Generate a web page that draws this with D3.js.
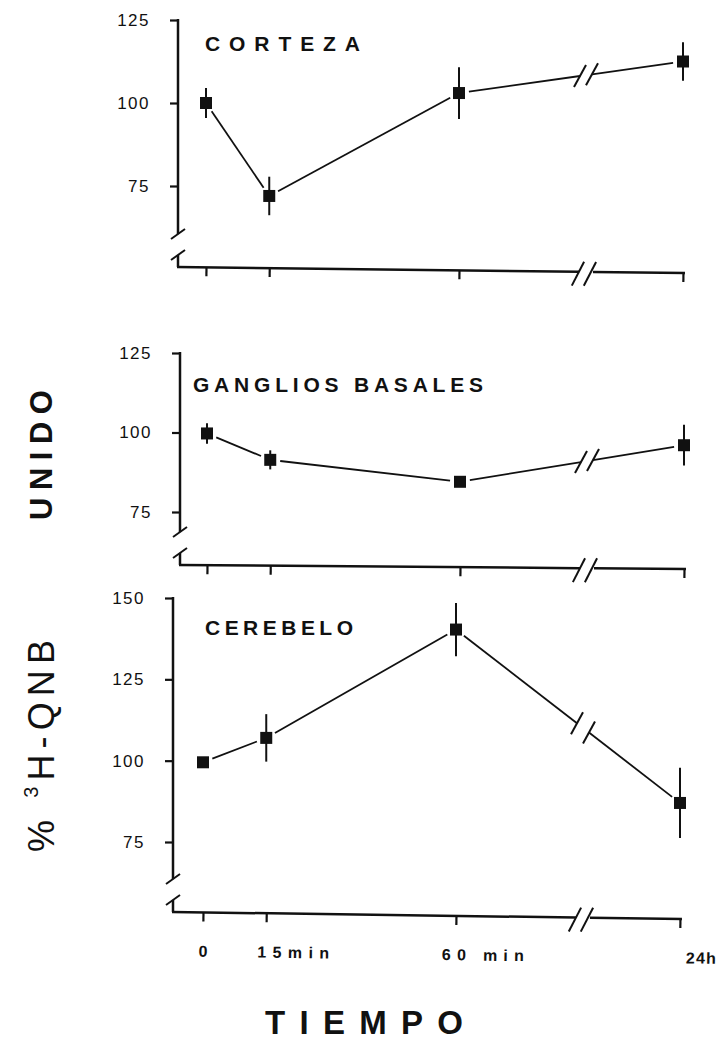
<!DOCTYPE html>
<html>
<head>
<meta charset="utf-8">
<script src="https://cdn.jsdelivr.net/npm/d3@7"></script>
<style>
	body { margin: 0; background: #fff; }
	svg { display: block; }
	text { font-family: "Liberation Sans", Arial, sans-serif; fill: #111; }
</style>
</head>
<body>
<div id="chart"></div>
<script>
// Values (% 3H-QNB bound, mean and error)
const times = [0, 15, 60, 1440];
const timeLabels = ['0', '15min', '60 min', '24h'];

const corteza = [100, 72, 103, 112.5];
const cortezaErr = [4.5, 5.8, 7.8, 5.8];
const cortezaTicks = [75, 100, 125];

const ganglios = [99.7, 91.4, 84.5, 96];
const gangliosErr = [3.2, 3, 0, 6.4];
const gangliosTicks = [75, 100, 125];

const cerebelo = [99.5, 107, 140.3, 87];
const cerebeloErr = [0, 7.3, 8.2, 10.8];
const cerebeloTicks = [75, 100, 125, 150];

const width = 719;
const height = 1042;
const ink = '#111';

// Layout of the three stacked panels
const panels = [
	{ title: 'CORTEZA', values: corteza, errs: cortezaErr, ticks: cortezaTicks,
		range: [186, 20], dx: 0, axisX: 178, base: 267, drop: 6, titleX: 205, titleY: 51, titleLen: 155 },
	{ title: 'GANGLIOS BASALES', values: ganglios, errs: gangliosErr, ticks: gangliosTicks,
		range: [512, 353], dx: 1, axisX: 180, base: 565, drop: 4, titleX: 193, titleY: 392, titleLen: 290 },
	{ title: 'CEREBELO', values: cerebelo, errs: cerebeloErr, ticks: cerebeloTicks,
		range: [842, 598], dx: -3, axisX: 173, base: 912, drop: 7, titleX: 205, titleY: 635, titleLen: 148, labels: true },
];

// Time axis: linear up to 60 min, then compressed after the break
const x = d3.scaleLinear().domain([0, 60, 1440]).range([206, 459, 683]);
const breakX = 586;

// x label placement (offset of the label centre from its tick, text length)
const labelDx = [0, 27, 27, 21];
const labelLen = [9, 72, 82, 30];

const svg = d3.select('#chart')
	.append('svg')
	.attr('width', width)
	.attr('height', height);

// draws a short "/" mark through a point
function slash(g, px, py, w, h) {
	g.append('line')
		.attr('x1', px - w).attr('y1', py + h)
		.attr('x2', px + w).attr('y2', py - h)
		.attr('stroke', ink).attr('stroke-width', 2);
}

// line between two points, trimmed at both ends
function segment(g, a, b, gapA, gapB) {
	const dx = b[0] - a[0];
	const dy = b[1] - a[1];
	const len = Math.sqrt(dx * dx + dy * dy);
	const ux = dx / len;
	const uy = dy / len;
	g.append('line')
		.attr('x1', a[0] + ux * gapA).attr('y1', a[1] + uy * gapA)
		.attr('x2', b[0] - ux * gapB).attr('y2', b[1] - uy * gapB)
		.attr('stroke', ink).attr('stroke-width', 1.8);
}

panels.forEach((p) => {
	const g = svg.append('g').attr('transform', `translate(${p.dx},0)`);
	const y = d3.scaleLinear()
		.domain([p.ticks[0], p.ticks[p.ticks.length - 1]])
		.range(p.range);
	const ax = p.axisX - p.dx;

	// y axis with ticks
	const yAxis = g.append('g')
		.attr('transform', `translate(${ax},0)`)
		.call(d3.axisLeft(y).tickValues(p.ticks).tickSize(8).tickPadding(20));
	yAxis.select('.domain').remove();
	yAxis.selectAll('line').attr('stroke', ink).attr('stroke-width', 2.2);
	yAxis.selectAll('text')
		.attr('font-size', 17)
		.attr('letter-spacing', 1.5)
		.attr('fill', ink);

	// y axis line with a break near the bottom
	const upperEnd = p.base - 33;
	const lowerStart = p.base - 12;
	g.append('line')
		.attr('x1', ax).attr('y1', p.range[1] - 1)
		.attr('x2', ax).attr('y2', upperEnd)
		.attr('stroke', ink).attr('stroke-width', 2.5);
	g.append('line')
		.attr('x1', ax).attr('y1', lowerStart)
		.attr('x2', ax).attr('y2', p.base)
		.attr('stroke', ink).attr('stroke-width', 2.5);
	slash(g, ax, upperEnd, 7, 5);
	slash(g, ax, lowerStart, 7, 5);

	// x axis, slightly tilted like the scanned original
	const xEnd = x(times[times.length - 1]) + 2;
	const angle = Math.atan2(p.drop, xEnd - ax) * 180 / Math.PI;
	const xg = g.append('g')
		.attr('transform', `translate(0,${p.base}) rotate(${angle},${ax},0)`);
	const xAxis = xg.append('g')
		.call(d3.axisBottom(x).tickValues(times).tickSize(9).tickPadding(24)
			.tickFormat((d, i) => (p.labels ? timeLabels[i] : '')));
	xAxis.select('.domain').remove();
	xAxis.selectAll('line').attr('stroke', ink).attr('stroke-width', 2.2);
	xAxis.selectAll('text')
		.attr('dx', (d, i) => labelDx[i])
		.attr('font-size', 16)
		.attr('font-weight', 'bold')
		.attr('fill', ink)
		.attr('textLength', (d, i) => labelLen[i])
		.attr('lengthAdjust', 'spacing');
	xg.append('line')
		.attr('x1', ax - 1).attr('y1', 0)
		.attr('x2', breakX - 7).attr('y2', 0)
		.attr('stroke', ink).attr('stroke-width', 2.5);
	xg.append('line')
		.attr('x1', breakX + 7).attr('y1', 0)
		.attr('x2', xEnd).attr('y2', 0)
		.attr('stroke', ink).attr('stroke-width', 2.5);
	slash(xg, breakX - 8, 2, 6, 12);
	slash(xg, breakX + 4, 2, 6, 12);

	// panel title
	g.append('text')
		.attr('x', p.titleX - p.dx)
		.attr('y', p.titleY)
		.attr('font-size', 21)
		.attr('font-weight', 'bold')
		.attr('textLength', p.titleLen)
		.attr('lengthAdjust', 'spacing')
		.text(p.title);

	// connecting lines, with a break between 60 min and 24 h
	const pts = p.values.map((v, i) => [x(times[i]), y(v)]);
	for (let i = 0; i < pts.length - 1; i += 1) {
		const a = pts[i];
		const b = pts[i + 1];
		if (b[0] > breakX && a[0] < breakX) {
			const t = (breakX - a[0]) / (b[0] - a[0]);
			const m = [breakX, a[1] + t * (b[1] - a[1])];
			const slope = (b[1] - a[1]) / (b[0] - a[0]);
			const m1 = [m[0] - 6, m[1] - 6 * slope];
			const m2 = [m[0] + 6, m[1] + 6 * slope];
			segment(g, a, m1, 10, 0);
			segment(g, m2, b, 0, 10);
			slash(g, m1[0], m1[1], 6, 11);
			slash(g, m2[0], m2[1], 6, 11);
		} else {
			segment(g, a, b, 10, 10);
		}
	}

	// error bars
	g.selectAll('.err')
		.data(p.values)
		.join('line')
		.attr('class', 'err')
		.attr('x1', (d, i) => x(times[i]))
		.attr('x2', (d, i) => x(times[i]))
		.attr('y1', (d, i) => y(d - p.errs[i]))
		.attr('y2', (d, i) => y(d + p.errs[i]))
		.attr('stroke', ink)
		.attr('stroke-width', 2);

	// square markers
	g.selectAll('.pt')
		.data(p.values)
		.join('rect')
		.attr('class', 'pt')
		.attr('x', (d, i) => x(times[i]) - 6)
		.attr('y', (d) => y(d) - 6)
		.attr('width', 12)
		.attr('height', 12)
		.attr('fill', ink);
});

// y axis title, rotated
const yTitle = svg.append('g').attr('transform', 'translate(54,0) rotate(-90)');
const yt = yTitle.append('text')
	.attr('x', -852)
	.attr('y', 0)
	.attr('font-size', 36)
	.attr('textLength', 212)
	.attr('lengthAdjust', 'spacing');
yt.append('tspan').text('% ');
yt.append('tspan').attr('font-size', 20).attr('dy', -16).text('3');
yt.append('tspan').attr('dy', 16).text('H-QNB');
yTitle.append('text')
	.attr('x', -520)
	.attr('y', -2)
	.attr('font-size', 31)
	.attr('font-weight', 'bold')
	.attr('textLength', 130)
	.attr('lengthAdjust', 'spacing')
	.text('UNIDO');

// x axis title
svg.append('text')
	.attr('x', 265)
	.attr('y', 1034)
	.attr('font-size', 33)
	.attr('font-weight', 'bold')
	.attr('textLength', 198)
	.attr('lengthAdjust', 'spacing')
	.text('TIEMPO');
</script>
</body>
</html>
